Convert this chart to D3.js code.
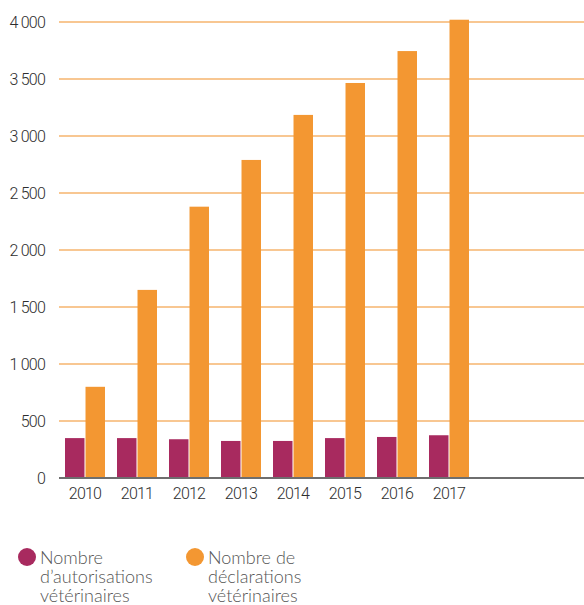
<!DOCTYPE html>
<html>
<head>
<meta charset="utf-8">
<script src="https://cdn.jsdelivr.net/npm/d3@7"></script>
<style>
  body { margin: 0; background: #fff; }
  .tick text { font-family: Roboto, "DejaVu Sans Condensed", sans-serif; font-weight: 300; fill: #2e2e2e; letter-spacing: -0.8px; }
</style>
</head>
<body>
<div id="chart"></div>
<script>
var years = ["2010", "2011", "2012", "2013", "2014", "2015", "2016", "2017"];
var autorisations = [350, 350, 340, 325, 325, 350, 360, 375];
var declarations = [800, 1650, 2380, 2790, 3185, 3465, 3745, 4020];
var yTicks = [0, 500, 1000, 1500, 2000, 2500, 3000, 3500, 4000];
var legendLabels = [
    ["Nombre", "d\u2019autorisations", "vétérinaires"],
    ["Nombre de", "déclarations", "vétérinaires"]
];
var colors = ["#a82a5f", "#f39732"];

var svg = d3.select("#chart")
    .append("svg")
    .attr("width", 584)
    .attr("height", 605);

var mLeft = 59, mRight = 584, mTop = 22, mBottom = 478;

var y = d3.scaleLinear().domain([0, 4000]).range([mBottom, mTop]);

var x0 = d3.scaleBand()
    .domain(years)
    .range([mLeft, mLeft + 52 * 8])
    .paddingInner(12 / 52)
    .paddingOuter(6 / 52);

var x1 = d3.scaleBand()
    .domain([0, 1])
    .range([0, x0.bandwidth()])
    .paddingInner(0.05);

// grid lines
svg.append("g")
    .selectAll("line")
    .data(yTicks.slice(1))
    .enter().append("line")
    .attr("x1", mLeft)
    .attr("x2", mRight)
    .attr("y1", function(d) { return y(d); })
    .attr("y2", function(d) { return y(d); })
    .style("stroke", "#f6b46e")
    .style("stroke-width", 1.5);

// y axis labels
var yAxis = svg.append("g")
    .attr("transform", "translate(" + mLeft + ",0)")
    .call(d3.axisLeft(y).tickValues(yTicks).tickSize(0).tickPadding(14)
        .tickFormat(function(d) { return d3.format(",")(d).replace(",", " "); }));
yAxis.select(".domain").remove();
yAxis.selectAll("text").style("font-size", "16px");

// bars
var rows = years.map(function(yr, i) {
    return { year: yr, values: [autorisations[i], declarations[i]] };
});

var group = svg.selectAll(".grp")
    .data(rows)
    .enter().append("g")
    .attr("class", "grp")
    .attr("transform", function(d) { return "translate(" + x0(d.year) + ",0)"; });

group.selectAll("rect")
    .data(function(d) { return d.values; })
    .enter().append("rect")
    .attr("x", function(d, i) { return x1(i); })
    .attr("y", function(d) { return y(d); })
    .attr("width", x1.bandwidth())
    .attr("height", function(d) { return mBottom - y(d); })
    .style("fill", function(d, i) { return colors[i]; });

// baseline
svg.append("line")
    .attr("x1", mLeft)
    .attr("x2", mRight)
    .attr("y1", mBottom)
    .attr("y2", mBottom)
    .style("stroke", "#6e6e6e")
    .style("stroke-width", 2);

// x axis labels
var xAxis = svg.append("g")
    .attr("transform", "translate(0," + mBottom + ")")
    .call(d3.axisBottom(x0).tickSize(0).tickPadding(10));
xAxis.select(".domain").remove();
xAxis.selectAll("text").style("font-size", "16px");

// legend
var legendX = [27, 195];
legendLabels.forEach(function(lines, i) {
    var lg = svg.append("g").attr("transform", "translate(" + legendX[i] + ",557)");
    lg.append("circle")
        .attr("r", 9)
        .style("fill", colors[i]);
    var t = lg.append("text")
        .attr("x", 13)
        .attr("y", 7)
        .style("font-family", "Lato, 'Open Sans', sans-serif")
        .style("font-weight", 300)
        .style("font-size", "18px")
        .style("fill", "#555");
    lines.forEach(function(l, j) {
        t.append("tspan")
            .attr("x", 13)
            .attr("dy", j == 0 ? 0 : 19)
            .text(l);
    });
});
</script>
</body>
</html>
